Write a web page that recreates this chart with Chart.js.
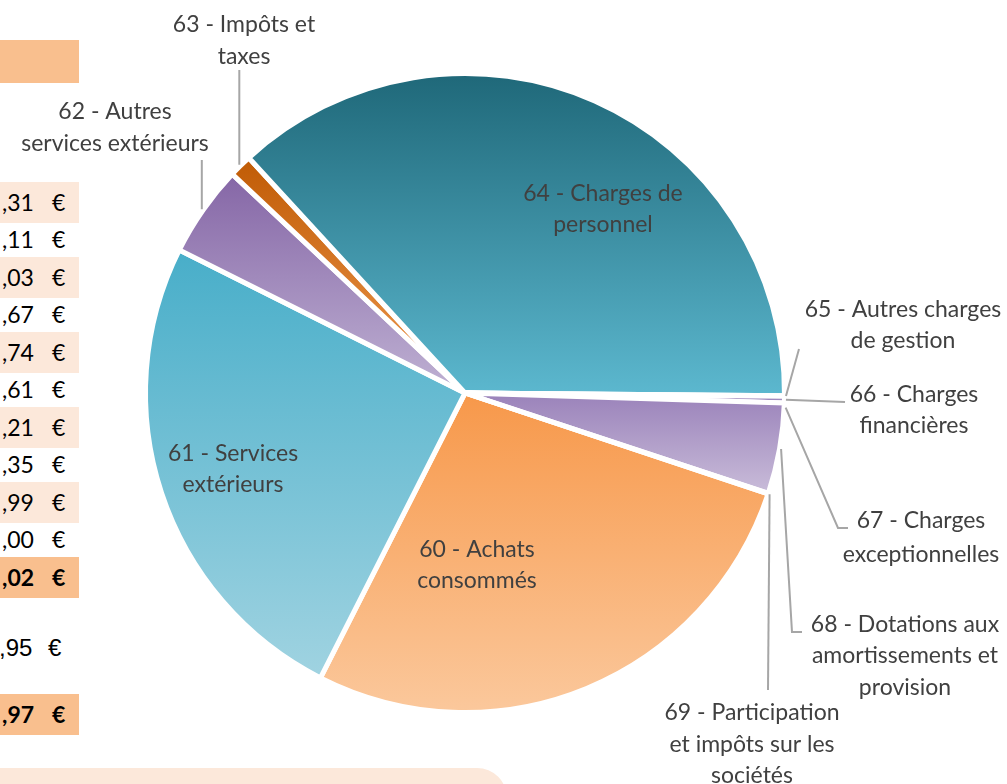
<!DOCTYPE html>
<html lang="fr">
<head>
<meta charset="UTF-8">
<title>Répartition des charges</title>
<script src="https://cdn.jsdelivr.net/npm/chart.js"></script>
<style>
    body {
        margin: 0;
        width: 1007px;
        height: 784px;
        overflow: hidden;
        position: relative;
        background: #ffffff;
        font-family: Lato, sans-serif;
    }
    .bande-entete { position: absolute; left: 0; top: 40px; width: 79px; height: 43px; background: #f9bf8e; }
    .ligne { position: absolute; left: 0; width: 79px; height: 41px; font-size: 23px; color: #000; }
    .ligne.clair { background: #fce8da; }
    .ligne.fonce { background: #f9bf8e; font-weight: bold; }
    .ligne.arial { font-family: "Liberation Sans", Arial, sans-serif; font-size: 24px; }
    .ligne span { position: absolute; top: 0; line-height: 41px; white-space: nowrap; }
    .ligne .entier { right: 79px; }
    .ligne .decimales { left: 2px; }
    .ligne .euro { left: 52px; }
    .ligne.arial .entier { right: 80px; }
    .ligne.arial .decimales { left: -1px; }
    .ligne.arial .euro { left: 48px; }
    .panneau { position: absolute; left: -40px; top: 768px; width: 547px; height: 60px; background: #fce8da; border-top-right-radius: 30px; }
    #graphique { position: absolute; left: 0; top: 0; }
</style>
</head>
<body>
    <div class="bande-entete"></div>
    <div id="tableau"></div>
    <div class="panneau"></div>
    <canvas id="graphique" width="1007" height="784"></canvas>

<script>
// comptes de charges (classe 6)
const libelles = [
    ['60 - Achats', 'consommés'],
    ['61 - Services', 'extérieurs'],
    ['62 - Autres', 'services extérieurs'],
    ['63 - Impôts et', 'taxes'],
    ['64 - Charges de', 'personnel'],
    ['65 - Autres charges', 'de gestion'],
    ['66 - Charges', 'financières'],
    ['67 - Charges', 'exceptionnelles'],
    ['68 - Dotations aux', 'amortissements et', 'provision'],
    ['69 - Participation', 'et impôts sur les', 'sociétés']
];
const montants = [342427.31, 311835.11, 57882.03, 14427.67, 462712.74, 347.61, 4171.21, 57360.35, 347.99, 0.00];
const autreMontant = 48210.95;

// dégradés haut -> bas de chaque part
const couleurs = [
    ['#f7984a', '#fbc89c'],
    ['#48aec9', '#a0d3e1'],
    ['#8566a6', '#bfb1d3'],
    ['#c05b05', '#ef9a50'],
    ['#1f6879', '#5cb8cf'],
    ['#9a82ba', '#c9bcd9'],
    ['#8f75b0', '#a996c6'],
    ['#9a82ba', '#c9bcd9'],
    ['#9a82ba', '#c9bcd9'],
    ['#9a82ba', '#c9bcd9']
];

// position des étiquettes (centre x, lignes de base) et traits de rappel
const etiquettes = [
    { x: 477, y: [557, 588] },
    { x: 233, y: [461, 492] },
    { x: 115, y: [119, 150.5], trait: [[null, 160]] },
    { x: 244, y: [32, 63.5], trait: [[null, 70]] },
    { x: 603, y: [201, 232] },
    { x: 903, y: [316.7, 348.3], trait: [[799, 349]] },
    { x: 914, y: [401.7, 433.3], trait: [[845, 402]] },
    { x: 921, y: [528.3, 561.7], trait: [[838, 528], [848, 528]], ancre: { i: 7, f: 0.05 } },
    { x: 905, y: [631.7, 663.3, 695], trait: [[792, 632], [802, 632]], ancre: { i: 7, f: 0.5 } },
    { x: 752, y: [720, 751.7, 783], trait: [[768, 690]] }
];

function euros(v) {
    const parts = v.toFixed(2).split('.');
    return [parts[0].replace(/\B(?=(\d{3})+(?!\d))/g, '\u00a0'), ',' + parts[1]];
}

// tableau à gauche (coupé par le bord)
const totalCharges = montants.reduce((a, b) => a + b, 0);
const lignes = montants.map((m, i) => ({ v: m, cls: i % 2 === 0 ? 'clair' : '', y: 202 + 37.5 * i }));
lignes.push({ v: totalCharges, cls: 'fonce', y: 577.5 });
lignes.push({ v: autreMontant, cls: 'arial', y: 647 });
lignes.push({ v: totalCharges + autreMontant, cls: 'fonce', y: 714.5 });

const tableau = document.getElementById('tableau');
lignes.forEach(l => {
    const div = document.createElement('div');
    const txt = euros(l.v);
    div.className = 'ligne ' + l.cls;
    div.style.top = (l.y - 20.5) + 'px';
    div.innerHTML = '<span class="entier">' + txt[0] + '</span><span class="decimales">' + txt[1] +
        '</span><span class="euro">€</span>';
    tableau.appendChild(div);
});

function degrade(context) {
    const i = context.dataIndex;
    const arc = context.element;
    if (!arc || arc.outerRadius === undefined) return couleurs[i][0];
    const p = arc.getProps(['x', 'y', 'startAngle', 'endAngle', 'outerRadius'], true);
    const ys = [p.y, p.y + p.outerRadius * Math.sin(p.startAngle), p.y + p.outerRadius * Math.sin(p.endAngle)];
    for (let k = -1; k <= 3; k++) {
        const a = -Math.PI / 2 + k * Math.PI;
        if (a >= p.startAngle && a <= p.endAngle) ys.push(p.y + p.outerRadius * Math.sin(a));
    }
    const y0 = Math.min(...ys), y1 = Math.max(...ys);
    const g = context.chart.ctx.createLinearGradient(0, y0, 0, y1 > y0 ? y1 : y0 + 1);
    g.addColorStop(0, couleurs[i][0]);
    g.addColorStop(1, couleurs[i][1]);
    return g;
}

const etiquettesPlugin = {
    id: 'etiquettes',
    afterDraw(chart) {
        const ctx = chart.ctx;
        const arcs = chart.getDatasetMeta(0).data;
        ctx.save();
        ctx.strokeStyle = '#a6a6a6';
        ctx.lineWidth = 2;
        etiquettes.forEach((e, i) => {
            if (!e.trait) return;
            const a = e.ancre || { i: i, f: 0.5 };
            const arc = arcs[a.i];
            const ang = arc.startAngle + (arc.endAngle - arc.startAngle) * a.f;
            const r = arc.outerRadius + 1.5;
            const ax = arc.x + r * Math.cos(ang);
            const ay = arc.y + r * Math.sin(ang);
            ctx.beginPath();
            ctx.moveTo(ax, ay);
            e.trait.forEach(pt => ctx.lineTo(pt[0] === null ? ax : pt[0], pt[1]));
            ctx.stroke();
        });
        ctx.fillStyle = '#404040';
        ctx.font = '23px Lato';
        ctx.textAlign = 'center';
        ctx.textBaseline = 'alphabetic';
        etiquettes.forEach((e, i) => {
            libelles[i].forEach((t, k) => ctx.fillText(t, e.x, e.y[k]));
        });
        ctx.restore();
    }
};

const chart = new Chart(document.getElementById('graphique'), {
    type: 'pie',
    data: {
        labels: libelles.map(l => l.join(' ')),
        datasets: [{
            data: montants,
            backgroundColor: degrade,
            borderColor: '#ffffff',
            borderWidth: 5,
            hoverBorderWidth: 5
        }]
    },
    options: {
        responsive: false,
        animation: false,
        rotation: 108.4,
        layout: { padding: { left: 143, top: 71, right: 220, bottom: 69 } },
        plugins: {
            legend: { display: false },
            tooltip: { enabled: false }
        }
    },
    plugins: [etiquettesPlugin]
});
chart.update();
</script>
</body>
</html>
